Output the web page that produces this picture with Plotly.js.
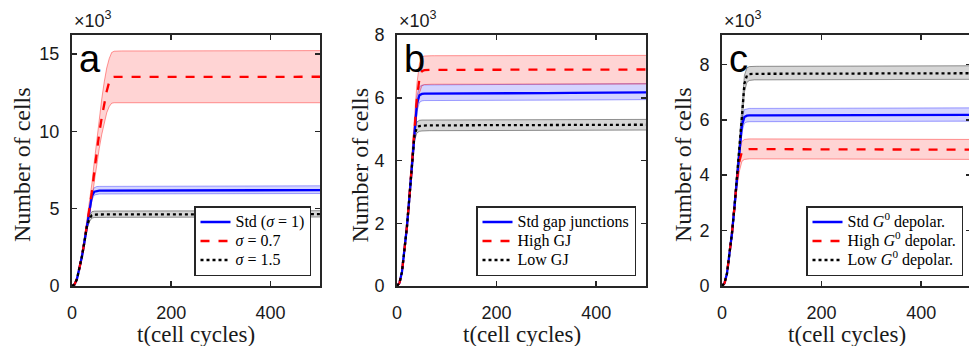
<!DOCTYPE html>
<html><head><meta charset="utf-8">
<script src="https://cdn.plot.ly/plotly-3.0.1.min.js"></script>
<style>html,body{margin:0;padding:0;overflow:hidden;background:#fff}#chart{width:975px;height:346px}</style>
</head><body><div id="chart"></div><script>
// time points (cell cycles)
const t = [0,5,10,15,20,25,30,35,40,45,50,55,60,65,70,75,80,85,90,100,150,200,250,300,350,400,450,500];

// ---- Panel a ----
const aStdMean = [0,100,450,1100,1900,2850,3850,4900,5800,6100,6160,6170,6170,6170,6170,6170,6170,6170,6170,6170,6170,6175,6180,6180,6185,6190,6195,6200];
const aStdUp   = [0,110,490,1190,2050,3050,4100,5150,6050,6360,6430,6440,6440,6440,6440,6440,6440,6440,6440,6440,6445,6450,6455,6460,6465,6470,6475,6480];
const aStdLo   = [0,90,410,1010,1750,2650,3600,4650,5550,5880,5940,5950,5950,5950,5950,5950,5950,5950,5950,5950,5950,5955,5960,5960,5965,5970,5975,5980];
const aS07Mean = [0,100,450,1100,1900,2850,3850,4900,6050,7400,8700,9900,10900,11800,12600,13200,13500,13520,13520,13520,13520,13520,13525,13525,13530,13530,13530,13530];
const aS07Up   = [0,110,490,1200,2080,3120,4200,5350,6600,8050,9500,10900,12100,13200,14100,14700,15100,15180,15200,15200,15200,15200,15210,15210,15210,15220,15220,15220];
const aS07Lo   = [0,90,410,1000,1720,2580,3500,4450,5500,6750,7900,8900,9800,10600,11200,11600,11820,11850,11850,11850,11850,11850,11850,11850,11850,11850,11850,11850];
const aS15Mean = [0,100,450,1100,1900,2850,3850,4350,4580,4620,4630,4630,4630,4630,4630,4630,4630,4630,4630,4630,4635,4640,4640,4645,4645,4650,4650,4650];
const aS15Up   = [0,110,490,1180,2030,3030,4050,4560,4800,4840,4850,4850,4850,4850,4850,4850,4850,4850,4850,4850,4855,4860,4860,4865,4865,4870,4870,4870];
const aS15Lo   = [0,90,410,1020,1770,2670,3650,4150,4390,4430,4440,4440,4440,4440,4440,4440,4440,4440,4440,4440,4445,4450,4450,4455,4455,4460,4460,4460];

// ---- Panel b ----
const bStdMean = [0,100,450,1100,1900,2850,3850,4900,5800,6080,6120,6130,6130,6130,6130,6130,6130,6130,6130,6130,6135,6140,6145,6150,6155,6160,6165,6170];
const bStdUp   = [0,110,490,1190,2050,3050,4100,5150,6050,6350,6400,6410,6410,6410,6410,6410,6410,6410,6410,6410,6415,6420,6425,6430,6435,6440,6445,6450];
const bStdLo   = [0,90,410,1010,1750,2650,3600,4650,5550,5850,5900,5910,5910,5910,5910,5910,5910,5910,5910,5910,5910,5915,5920,5920,5925,5930,5935,5940];
const bHiMean  = [0,100,450,1100,1900,2850,3850,4900,6000,6600,6850,6880,6890,6890,6890,6890,6890,6890,6890,6890,6890,6895,6895,6900,6900,6900,6900,6900];
const bHiUp    = [0,110,490,1200,2080,3120,4200,5300,6450,7080,7300,7330,7340,7340,7340,7340,7340,7340,7340,7340,7340,7345,7345,7350,7350,7350,7350,7350];
const bHiLo    = [0,90,410,1000,1720,2580,3500,4500,5550,6150,6380,6420,6430,6430,6430,6430,6430,6430,6430,6430,6430,6435,6435,6440,6440,6440,6440,6440];
const bLoMean  = [0,100,450,1100,1900,2850,3850,4800,5050,5100,5110,5120,5120,5120,5120,5120,5120,5120,5120,5120,5125,5125,5130,5130,5135,5135,5140,5140];
const bLoUp    = [0,110,490,1180,2030,3030,4050,4980,5230,5280,5290,5290,5290,5290,5290,5290,5290,5290,5290,5290,5295,5295,5300,5300,5305,5305,5310,5310];
const bLoLo    = [0,90,410,1020,1770,2670,3650,4620,4880,4930,4940,4950,4950,4950,4950,4950,4950,4950,4950,4950,4955,4955,4960,4960,4965,4965,4970,4970];

// ---- Panel c ----
const cStdMean = [0,100,450,1100,1900,2850,3850,4900,5800,6100,6150,6160,6160,6160,6160,6160,6160,6160,6160,6160,6165,6165,6170,6170,6175,6175,6180,6180];
const cStdUp   = [0,110,490,1190,2050,3050,4100,5150,6050,6370,6400,6410,6410,6410,6410,6410,6410,6410,6410,6410,6415,6415,6420,6420,6425,6425,6430,6430];
const cStdLo   = [0,90,410,1010,1750,2650,3600,4650,5550,5880,5920,5930,5930,5930,5930,5930,5930,5930,5930,5930,5935,5935,5940,5940,5945,5945,5950,5950];
const cHiMean  = [0,100,450,1100,1900,2850,3850,4500,4850,4920,4940,4940,4940,4940,4940,4940,4940,4940,4940,4940,4935,4935,4930,4930,4925,4925,4920,4920];
const cHiUp    = [0,110,490,1200,2070,3100,4150,4880,5220,5290,5310,5310,5310,5310,5310,5310,5310,5310,5310,5310,5305,5305,5300,5300,5295,5295,5290,5290];
const cHiLo    = [0,90,410,1000,1730,2600,3550,4150,4500,4570,4590,4590,4590,4590,4590,4590,4590,4590,4590,4590,4585,4585,4580,4580,4575,4575,4570,4570];
const cLoMean  = [0,100,450,1100,1900,2850,3850,4900,6100,7300,7600,7650,7660,7660,7660,7660,7660,7660,7660,7660,7665,7665,7670,7670,7670,7675,7675,7680];
const cLoUp    = [0,110,490,1180,2040,3050,4100,5200,6450,7600,7880,7920,7930,7930,7930,7930,7930,7930,7930,7930,7935,7935,7940,7940,7940,7945,7945,7950];
const cLoLo    = [0,90,410,1020,1760,2650,3600,4600,5750,7000,7350,7420,7440,7440,7440,7440,7440,7440,7440,7440,7445,7445,7450,7450,7450,7455,7455,7460];

const legendA = ['Std (<i>σ</i> = 1)', '<i>σ</i> = 0.7', '<i>σ</i> = 1.5'];
const legendB = ['Std gap junctions', 'High GJ', 'Low GJ'];
const legendC = ['Std <i>G</i><sup>0</sup> depolar.', 'High <i>G</i><sup>0</sup> depolar.', 'Low <i>G</i><sup>0</sup> depolar.'];

const xTicks = [0,200,400];
const aYTickVals = [0,5000,10000,15000];
const aYTickText = ['0','5','10','15'];
const bcYTickVals = [0,2000,4000,6000,8000];
const bcYTickText = ['0','2','4','6','8'];
const panelLetters = ['a','b','c'];
const xTitle = 't(cell cycles)';
const yTitle = 'Number of cells';

const W = 975, H = 346;
const SERIF = '"Liberation Serif", "DejaVu Serif", "Times New Roman", serif';
const SANS = '"Liberation Sans", Arial, sans-serif';
const BLUE = '#0000ff', RED = '#ff0000', BLACK = '#000000';
const styles = [
  {color: BLUE, dash: 'solid', fill: 'rgba(0,0,255,0.17)', edge: 'rgba(0,0,255,0.35)'},
  {color: RED, dash: 'dash', fill: 'rgba(255,0,0,0.17)', edge: 'rgba(255,0,0,0.4)'},
  {color: BLACK, dash: 'dot', fill: 'rgba(0,0,0,0.16)', edge: 'rgba(0,0,0,0.4)'}
];

const panels = [
  {series: [[aStdMean,aStdUp,aStdLo],[aS07Mean,aS07Up,aS07Lo],[aS15Mean,aS15Up,aS15Lo]], names: legendA},
  {series: [[bStdMean,bStdUp,bStdLo],[bHiMean,bHiUp,bHiLo],[bLoMean,bLoUp,bLoLo]], names: legendB},
  {series: [[cStdMean,cStdUp,cStdLo],[cHiMean,cHiUp,cHiLo],[cLoMean,cLoUp,cLoLo]], names: legendC}
];

const traces = [];
panels.forEach((p, pi) => {
  const xa = pi === 0 ? 'x' : 'x' + (pi + 1);
  const ya = pi === 0 ? 'y' : 'y' + (pi + 1);
  p.series.forEach((s, si) => {
    const st = styles[si];
    traces.push({x: t, y: s[2], xaxis: xa, yaxis: ya, mode: 'lines', line: {color: st.edge, width: 1}, showlegend: false, hoverinfo: 'skip'});
    traces.push({x: t, y: s[1], xaxis: xa, yaxis: ya, mode: 'lines', fill: 'tonexty', fillcolor: st.fill, line: {color: st.edge, width: 1}, showlegend: false, hoverinfo: 'skip'});
  });
});
panels.forEach((p, pi) => {
  const xa = pi === 0 ? 'x' : 'x' + (pi + 1);
  const ya = pi === 0 ? 'y' : 'y' + (pi + 1);
  const lg = pi === 0 ? 'legend' : 'legend' + (pi + 1);
  p.series.forEach((s, si) => {
    const st = styles[si];
    traces.push({x: t, y: s[0], xaxis: xa, yaxis: ya, mode: 'lines',
      name: '<span style="font-size:16px">' + p.names[si] + '</span>', legend: lg,
      line: {color: st.color, width: 2.3, dash: st.dash}});
  });
});

const axPx = [[72, 320], [397, 646], [722, 971]];
const yDom = [(H - 286) / H, (H - 35) / H];
const yRanges = [[0, 16230], [0, 8000], [0, 9060]];
const tickFont = {family: SANS, size: 18, color: '#1a1a1a'};

function xaxis(i) {
  return {domain: [axPx[i][0] / W, axPx[i][1] / W], range: [0, 500], anchor: i === 0 ? 'y' : 'y' + (i + 1),
    tickvals: xTicks, ticktext: xTicks.map(String), ticks: 'inside', ticklen: 5, tickwidth: 1.5, tickcolor: '#262626',
    showline: true, linecolor: '#262626', linewidth: 2, mirror: 'allticks', showgrid: false, zeroline: false,
    tickfont: tickFont, ticklabelstandoff: 9, fixedrange: true};
}
function yaxis(i) {
  const tv = i === 0 ? aYTickVals : bcYTickVals;
  const tt = i === 0 ? aYTickText : bcYTickText;
  return {domain: yDom, range: yRanges[i], anchor: i === 0 ? 'x' : 'x' + (i + 1),
    tickvals: tv, ticktext: tt, ticks: 'inside', ticklen: 5, tickwidth: 1.5, tickcolor: '#262626',
    showline: true, linecolor: '#262626', linewidth: 2, mirror: 'allticks', showgrid: false, zeroline: false,
    tickfont: tickFont, ticklabelstandoff: 7, fixedrange: true};
}

const legendBase = {bgcolor: '#ffffff', bordercolor: '#262626', borderwidth: 1.5, xanchor: 'right', yanchor: 'bottom',
  traceorder: 'normal', font: {family: SERIF, size: 12, color: '#000'}, itemwidth: 30, tracegroupgap: 0};
const legendRight = [311, 636, 963];

const annotations = [];
const yTitleX = [22, 359.5, 683];
panelLetters.forEach((L, i) => {
  annotations.push({xref: 'paper', yref: 'paper', x: (axPx[i][0] + 5) / W, y: (H - 59) / H, xanchor: 'left', yanchor: 'middle',
    text: L, showarrow: false, font: {family: SANS, size: 38, color: '#000'}});
  annotations.push({xref: 'paper', yref: 'paper', x: (axPx[i][0] + 0) / W, y: (H - 33) / H, xanchor: 'left', yanchor: 'bottom',
    text: '×10<sup>3</sup>', showarrow: false, font: {family: SANS, size: 18, color: '#1a1a1a'}});
  annotations.push({xref: 'paper', yref: 'paper', x: (axPx[i][0] + axPx[i][1]) / 2 / W, y: (H - 334) / H, xanchor: 'center', yanchor: 'middle',
    text: xTitle, showarrow: false, font: {family: SERIF, size: 23, color: '#1a1a1a'}});
  annotations.push({xref: 'paper', yref: 'paper', x: yTitleX[i] / W, y: (H - 165) / H, xanchor: 'center', yanchor: 'middle', textangle: -90,
    text: yTitle, showarrow: false, font: {family: SERIF, size: 24, color: '#1a1a1a'}});
});

const layout = {
  width: W, height: H, margin: {l: 0, r: 0, t: 0, b: 0}, paper_bgcolor: '#fff', plot_bgcolor: '#fff',
  showlegend: true,
  xaxis: xaxis(0), xaxis2: xaxis(1), xaxis3: xaxis(2),
  yaxis: yaxis(0), yaxis2: yaxis(1), yaxis3: yaxis(2),
  legend: Object.assign({}, legendBase, {x: legendRight[0] / W, y: 70 / H}),
  legend2: Object.assign({}, legendBase, {x: legendRight[1] / W, y: 70 / H}),
  legend3: Object.assign({}, legendBase, {x: legendRight[2] / W, y: 70 / H}),
  annotations: annotations
};

Plotly.newPlot('chart', traces, layout, {displayModeBar: false, staticPlot: true});
</script></body></html>
